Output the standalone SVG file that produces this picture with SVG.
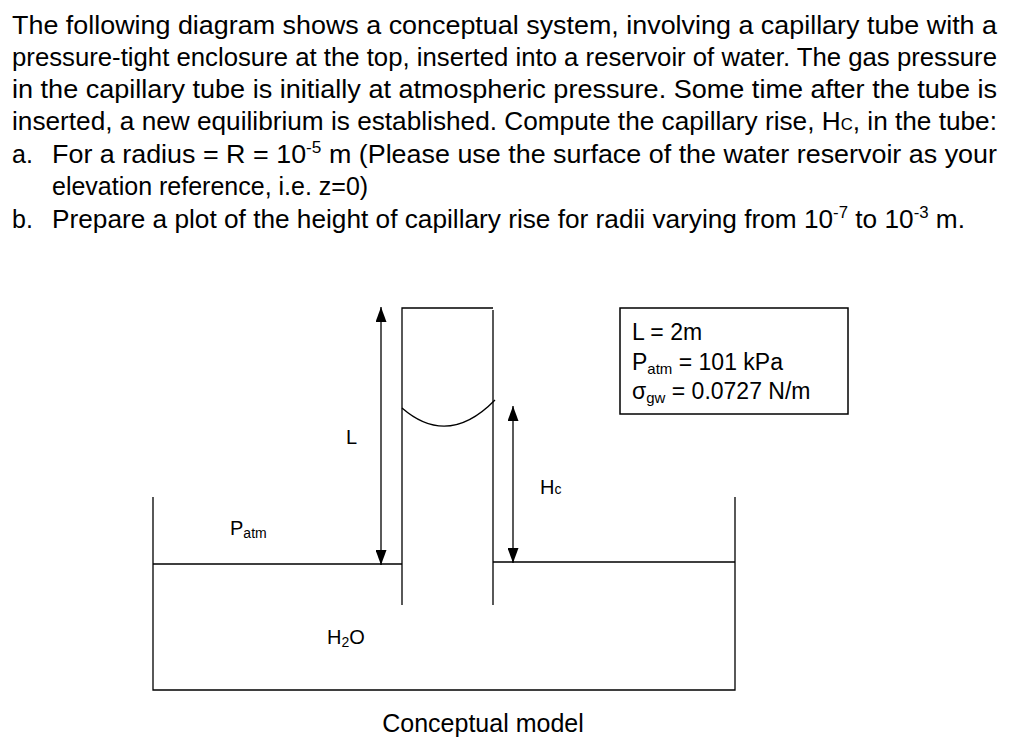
<svg xmlns="http://www.w3.org/2000/svg" width="1024" height="748" viewBox="0 0 1024 748">
<style>
.t{font-family:"Liberation Sans",Arial,sans-serif;font-size:25px;fill:#000}
.d{font-family:"Liberation Sans",Arial,sans-serif;font-size:20px;fill:#000}
.b{font-family:"Liberation Sans",Arial,sans-serif;font-size:23px;fill:#000}
.s{font-size:16px}
.ln{stroke:#000;stroke-width:1.3;fill:none}
</style>
<defs>
<marker id="ah" viewBox="0 0 10 10" refX="10" refY="5" markerWidth="15" markerHeight="11" markerUnits="userSpaceOnUse" orient="auto" preserveAspectRatio="none"><path d="M0,0L10,5L0,10z" fill="#000"/></marker>
</defs>
<rect width="1024" height="748" fill="#fff"/>
<g id="question">
<text class="t" x="12" y="34" textLength="985" lengthAdjust="spacingAndGlyphs">The following diagram shows a conceptual system, involving a capillary tube with a</text>
<text class="t" x="12" y="66" textLength="985" lengthAdjust="spacingAndGlyphs">pressure-tight enclosure at the top, inserted into a reservoir of water. The gas pressure</text>
<text class="t" x="12" y="98" textLength="985" lengthAdjust="spacingAndGlyphs">in the capillary tube is initially at atmospheric pressure. Some time after the tube is</text>
<text class="t" x="12" y="130" textLength="985" lengthAdjust="spacingAndGlyphs">inserted, a new equilibrium is established. Compute the capillary rise, H<tspan class="s">C</tspan>, in the tube:</text>
<text class="t" x="12" y="163">a.</text>
<text class="t" x="52" y="163" textLength="945" lengthAdjust="spacingAndGlyphs">For a radius = R = 10<tspan class="s" dy="-10">-5</tspan><tspan dy="10"> m (Please use the surface of the water reservoir as your</tspan></text>
<text class="t" x="52" y="195">elevation reference, i.e. z=0)</text>
<text class="t" x="12" y="228">b.</text>
<text class="t" x="52" y="228" textLength="913" lengthAdjust="spacingAndGlyphs">Prepare a plot of the height of capillary rise for radii varying from 10<tspan class="s" dy="-10">-7</tspan><tspan dy="10"> to 10</tspan><tspan class="s" dy="-10">-3</tspan><tspan dy="10"> m.</tspan></text>
</g>
<g id="reservoir">
<path class="ln" d="M153,497V690H735V497"/>
<path class="ln" d="M153,564H402M493,562H735"/>
</g>
<g id="tube">
<path class="ln" d="M402,605V308H493M493,310V605"/>
<path class="ln" d="M402,408Q448,448 495,400"/>
</g>
<g id="connectors">
<line class="ln" x1="381" y1="436" x2="381" y2="307" marker-end="url(#ah)"/>
<line class="ln" x1="381" y1="436" x2="381" y2="565" marker-end="url(#ah)"/>
<line class="ln" x1="513" y1="485" x2="513" y2="406" marker-end="url(#ah)"/>
<line class="ln" x1="513" y1="485" x2="513" y2="563" marker-end="url(#ah)"/>
</g>
<g id="labels">
<text class="d" x="346" y="444">L</text>
<text class="d" x="540" y="494">H<tspan font-size="14">c</tspan></text>
<text class="d" x="230" y="535">P<tspan font-size="14" dy="3">atm</tspan></text>
<text class="d" x="327" y="644">H<tspan font-size="14" dy="3">2</tspan><tspan dy="-3">O</tspan></text>
</g>
<g id="params">
<rect x="620" y="308" width="228" height="106" fill="none" stroke="#000" stroke-width="1.5"/>
<text class="b" x="632" y="340">L = 2m</text>
<text class="b" x="632" y="370">P<tspan font-size="15" dy="4">atm</tspan><tspan dy="-4"> = 101 kPa</tspan></text>
<text class="b" x="632" y="399">σ<tspan font-size="15" dy="4">gw</tspan><tspan dy="-4"> = 0.0727 N/m</tspan></text>
</g>
<text class="t" x="483" y="732" text-anchor="middle">Conceptual model</text>
</svg>
